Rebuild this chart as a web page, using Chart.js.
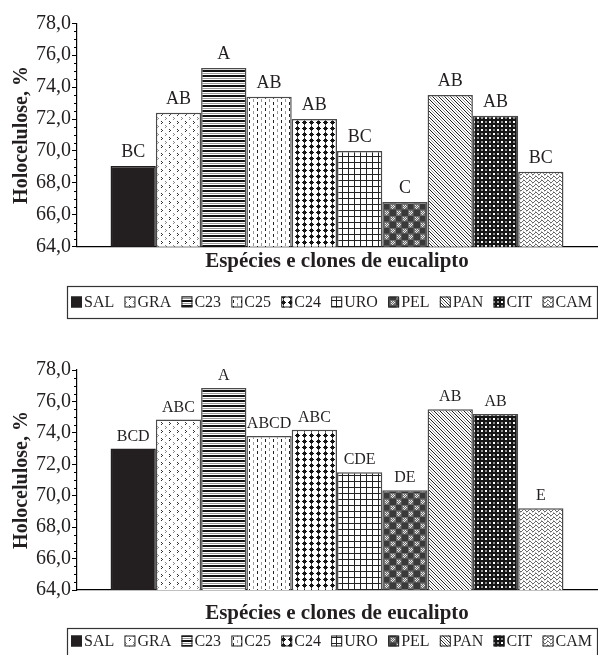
<!DOCTYPE html>
<html>
<head>
<meta charset="utf-8">
<script src="https://cdn.jsdelivr.net/npm/chart.js@4.4.1/dist/chart.umd.min.js"></script>
<style>
  html, body { margin: 0; padding: 0; background: #fff; }
  .panel { position: absolute; left: 0; width: 598px; }
  canvas { display: block; }
</style>
</head>
<body>
<div class="panel" style="top:0;height:325px"><canvas id="upper" width="598" height="325"></canvas></div>
<div class="panel" style="top:325px;height:330px"><canvas id="lower" width="598" height="330"></canvas></div>
<script>
// Eucalyptus species / clones and holocellulose content (%)
const categories = ['SAL', 'GRA', 'C23', 'C25', 'C24', 'URO', 'PEL', 'PAN', 'CIT', 'CAM'];
const holoUpper = [69.05, 72.4, 75.2, 73.4, 72.0, 70.0, 66.8, 73.5, 72.2, 68.7];
const lettersUpper = ['BC', 'AB', 'A', 'AB', 'AB', 'BC', 'C', 'AB', 'AB', 'BC'];
const holoLower = [73.0, 74.85, 76.85, 73.8, 74.2, 71.5, 70.35, 75.5, 75.2, 69.2];
const lettersLower = ['BCD', 'ABC', 'A', 'ABCD', 'ABC', 'CDE', 'DE', 'AB', 'AB', 'E'];
const yTickValues = [64, 66, 68, 70, 72, 74, 76, 78];
const yTickLabels = ['64,0', '66,0', '68,0', '70,0', '72,0', '74,0', '76,0', '78,0'];
const xAxisTitle = 'Espécies e clones de eucalipto';
const yAxisTitle = 'Holocelulose, %';

const SERIF = '"Liberation Serif", "Times New Roman", serif';
const INK = '#231f20';

// ---- monochrome fill patterns, one per clone ----
function tile(w, h, paint) {
  const cv = document.createElement('canvas');
  cv.width = w; cv.height = h;
  const g = cv.getContext('2d');
  g.fillStyle = '#fff'; g.fillRect(0, 0, w, h);
  paint(g, (x, y, col, ww = 1, hh = 1) => { g.fillStyle = col; g.fillRect(x, y, ww, hh); });
  return document.createElement('canvas').getContext('2d').createPattern(cv, 'repeat');
}

const fills = [
  // SAL: solid
  '#231f20',
  // GRA: small chevrons on white
  tile(8, 8, (g, px) => {
    px(1, 1, '#333'); px(2, 2, '#333'); px(1, 3, '#333');
    px(5, 5, '#888'); px(6, 6, '#888'); px(5, 7, '#888');
  }),
  // C23: horizontal bands
  tile(4, 5, (g, px) => {
    px(0, 0, '#111', 4, 2); px(0, 3, '#999', 4, 1);
  }),
  // C25: vertical dashes
  tile(8, 6, (g, px) => {
    px(1, 0, '#222', 1, 3); px(5, 3, '#999', 1, 3);
  }),
  // C24: diamonds in rows
  tile(7, 6, (g, px) => {
    const k = '#151515';
    px(3, 0, k); px(2, 1, k, 3, 1); px(1, 2, k, 5, 1); px(2, 3, k, 3, 1); px(3, 4, k);
    px(3, 5, '#777');
  }),
  // URO: square grid
  tile(6, 6, (g, px) => {
    px(0, 0, '#222', 6, 1); px(0, 0, '#222', 1, 6);
  }),
  // PEL: dark checks with light speckles
  tile(12, 12, (g, px) => {
    px(0, 0, '#707070', 12, 12);
    px(0, 0, '#3a3a3a', 6, 6); px(6, 6, '#3a3a3a', 6, 6);
    [[7,1],[9,1],[8,2],[10,2],[7,3],[9,3],[8,4],[1,7],[3,7],[2,8],[4,8],[1,9],[3,9],[2,10]]
      .forEach(([x, y]) => px(x, y, '#e8e8e8'));
    px(0, 5, '#555', 12, 1); px(5, 0, '#555', 1, 12);
  }),
  // PAN: fine diagonal steps
  tile(6, 6, (g, px) => {
    for (let i = 0; i < 6; i++) {
      px(i, i, '#1a1a1a');
      px((i + 3) % 6, i, '#9a9a9a');
    }
  }),
  // CIT: dark with white squares
  tile(8, 8, (g, px) => {
    px(0, 0, '#151515', 8, 8);
    px(1, 1, '#fff', 2, 2); px(5, 5, '#fff', 2, 2);
    px(5, 1, '#8a8a8a', 2, 2); px(1, 5, '#8a8a8a', 2, 2);
  }),
  // CAM: wavy lines
  tile(6, 4, (g, px) => {
    [[0,1],[1,0],[2,0],[3,1],[4,2],[5,2]].forEach(([x, y]) => px(x, y, '#6a6a6a'));
    px(1, 3, '#b0b0b0'); px(4, 3, '#c0c0c0');
  })
];

// ---- plugins ----
const minorTicks = {
  id: 'minorTicks',
  afterDraw(chart) {
    const y = chart.scales.y, c = chart.ctx, x0 = chart.chartArea.left;
    c.save();
    c.strokeStyle = '#000';
    c.lineWidth = 1;
    for (let v = y.min + 0.5; v < y.max; v += 0.5) {
      if (Math.abs(v / 2 - Math.round(v / 2)) < 1e-6) continue;
      const p = Math.round(y.getPixelForValue(v)) + 0.5;
      c.beginPath(); c.moveTo(x0 - 3, p); c.lineTo(x0, p); c.stroke();
    }
    c.restore();
  }
};

const letterLabels = {
  id: 'letterLabels',
  afterDatasetsDraw(chart, args, opts) {
    const c = chart.ctx;
    c.save();
    c.font = opts.size + 'px ' + SERIF;
    c.fillStyle = INK;
    c.textAlign = 'center';
    c.textBaseline = 'alphabetic';
    chart.data.datasets.forEach((ds, i) => {
      const bar = chart.getDatasetMeta(i).data[0];
      c.fillText(ds.letter, bar.x, bar.y - opts.gap);
    });
    c.restore();
  }
};

const boxedLegend = {
  id: 'boxedLegend',
  afterDraw(chart, args, o) {
    const c = chart.ctx;
    c.save();
    c.strokeStyle = '#333';
    c.lineWidth = 1.2;
    c.strokeRect(o.left, o.top, o.right - o.left, o.bottom - o.top);
    c.font = o.size + 'px ' + SERIF;
    c.textBaseline = 'middle';
    c.fillStyle = INK;
    const sw = 11, gap = 2;
    const ds = chart.data.datasets;
    const widths = ds.map(d => c.measureText(d.label).width);
    const used = widths.reduce((a, b) => a + b, 0) + ds.length * (sw + gap);
    const spacing = (o.itemsEnd - o.itemsStart - used) / (ds.length - 1);
    let x = o.itemsStart;
    ds.forEach((d, i) => {
      c.fillStyle = d.backgroundColor;
      c.fillRect(x, o.textY - sw / 2, sw, sw);
      c.strokeStyle = '#222';
      c.lineWidth = 1;
      c.strokeRect(x + 0.5, o.textY - sw / 2 + 0.5, sw - 1, sw - 1);
      c.fillStyle = INK;
      c.fillText(d.label, x + sw + gap, o.textY + 1);
      x += sw + gap + widths[i] + spacing;
    });
    c.restore();
  }
};

function makeChart(id, values, letters, L) {
  return new Chart(document.getElementById(id), {
    type: 'bar',
    data: {
      labels: [''],
      datasets: categories.map((name, i) => ({
        label: name,
        data: [values[i]],
        letter: letters[i],
        backgroundColor: fills[i],
        borderColor: i === 0 ? INK : '#4a4a4a',
        borderWidth: 1.5,
        borderSkipped: 'start',
        barPercentage: 1,
        categoryPercentage: 0.871
      }))
    },
    options: {
      responsive: false,
      animation: false,
      events: [],
      layout: { padding: { top: L.padTop, bottom: L.padBottom, left: 0, right: 1 } },
      plugins: {
        legend: { display: false },
        tooltip: { enabled: false },
        letterLabels: { size: L.letterSize, gap: L.letterGap },
        boxedLegend: L.legend
      },
      scales: {
        x: {
          grid: { display: false },
          border: { display: true, color: '#000', width: 1.2 },
          ticks: { display: false },
          title: {
            display: true, text: xAxisTitle, color: INK,
            font: { family: SERIF, size: 21, weight: 'bold' },
            padding: { top: 0, bottom: L.xTitlePad }
          },
          afterFit: s => { s.height = 40; }
        },
        y: {
          min: 64, max: 78,
          afterBuildTicks: s => { s.ticks = yTickValues.map(v => ({ value: v })); },
          ticks: {
            callback: v => yTickLabels[yTickValues.indexOf(v)],
            font: { family: SERIF, size: 20 }, color: INK, padding: 1
          },
          grid: { display: true, drawOnChartArea: false, drawTicks: true, tickLength: 5, tickColor: '#000', tickWidth: 1 },
          border: { display: true, color: '#000', width: 1.2 },
          title: {
            display: true, text: yAxisTitle, color: INK,
            font: { family: SERIF, size: 20, weight: 'bold' },
            padding: { top: 10, bottom: 0 }
          },
          afterFit: s => { s.width = 77; }
        }
      }
    },
    plugins: [minorTicks, letterLabels, boxedLegend]
  });
}

makeChart('upper', holoUpper, lettersUpper, {
  padTop: 23.3, padBottom: 38.3, xTitlePad: 13, letterSize: 18, letterGap: 9,
  legend: { left: 67.5, right: 597.5, top: 286.5, bottom: 318.5, textY: 302, size: 16, itemsStart: 71, itemsEnd: 592 }
});
makeChart('lower', holoLower, lettersLower, {
  padTop: 45, padBottom: 25, xTitlePad: 3.4, letterSize: 16, letterGap: 8,
  legend: { left: 67.5, right: 597.5, top: 303.5, bottom: 340, textY: 316, size: 16, itemsStart: 71, itemsEnd: 592 }
});
</script>
</body>
</html>
